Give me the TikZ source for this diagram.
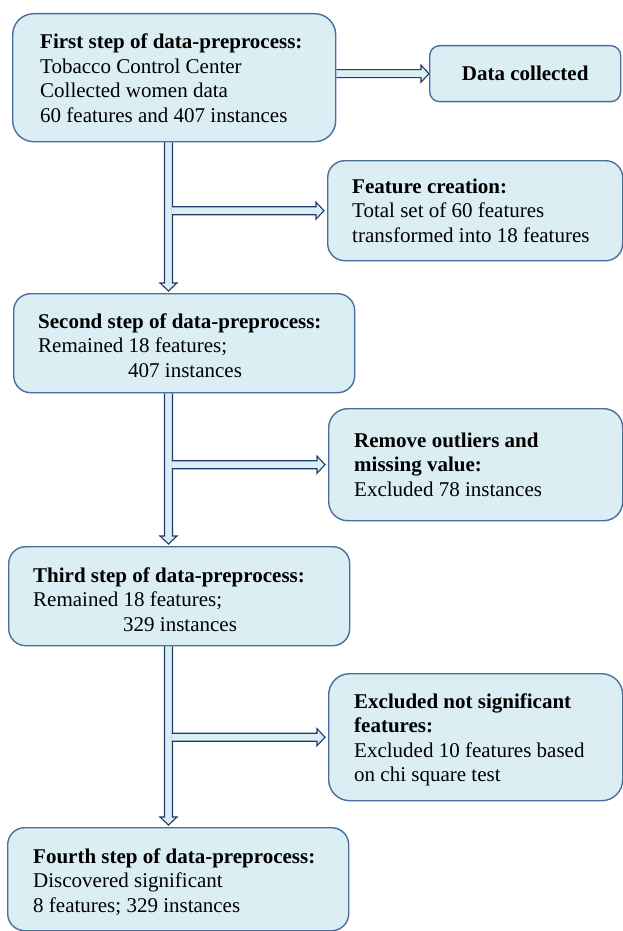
\documentclass[tikz,border=0pt]{standalone}
\usepackage{fontspec}
\setmainfont{Liberation Serif}
\usetikzlibrary{calc}

\definecolor{boxfill}{HTML}{DAEEF3}
\definecolor{boxline}{HTML}{4A6E9E}
\definecolor{arrline}{HTML}{1F3A6B}

\pgfdeclarelayer{background}
\pgfsetlayers{background,main}

\newcommand{\mainsize}{\fontsize{21pt}{24.5pt}\selectfont}

% hollow block arrow pointing down: from #1 (shaft start) to #2 (tip)
\newcommand{\downblock}[2]{%
  \path[blockarrow] let \p1=(#1), \p2=(#2) in
    (\x1-4pt,\y1) -- (\x1-4pt,\y2+8pt) -- (\x1-8.5pt,\y2+8pt) -- (\x1,\y2)
    -- (\x1+8.5pt,\y2+8pt) -- (\x1+4pt,\y2+8pt) -- (\x1+4pt,\y1);}

% hollow block arrow pointing right: from x of #1 to the tip #2
\newcommand{\rightblock}[2]{%
  \path[blockarrow] let \p1=(#1), \p2=(#2) in
    (\x1,\y2+4pt) -- (\x2-8pt,\y2+4pt) -- (\x2-8pt,\y2+8.5pt) -- (\x2,\y2)
    -- (\x2-8pt,\y2-8.5pt) -- (\x2-8pt,\y2-4pt) -- (\x1,\y2-4pt);}

\begin{document}
\begin{tikzpicture}[x=1pt,y=-1pt,
  stepbox/.style={draw=boxline, fill=boxfill, line width=1.4pt,
    rounded corners=#1, anchor=north west, inner sep=0pt},
  stepbox/.default=18pt,
  txt/.style={anchor=base west, inner sep=0pt, font=\mainsize},
  hd/.style={anchor=base west, inner sep=0pt, font=\mainsize\bfseries},
  blockarrow/.style={draw=arrline, fill=boxfill, line width=1.1pt, line join=miter},
]
\useasboundingbox (0,0) rectangle (623,931);

% ---- boxes ----
\node[stepbox=21pt, minimum width=323pt, minimum height=128pt] (s1) at (12,13) {};
\node[stepbox=10pt, minimum width=191pt, minimum height=56pt,
      font=\mainsize\bfseries] (dc) at (429,45) {Data collected};
\node[stepbox=17pt, minimum width=295pt, minimum height=100pt] (fc) at (327,160) {};
\node[stepbox=17pt, minimum width=341pt, minimum height=99pt] (s2) at (13,293) {};
\node[stepbox=19pt, minimum width=294pt, minimum height=112pt] (ro) at (328,408) {};
\node[stepbox=17pt, minimum width=341pt, minimum height=99pt] (s3) at (8,546) {};
\node[stepbox=21pt, minimum width=294pt, minimum height=127pt] (ex) at (328,673) {};
\node[stepbox=17pt, minimum width=341pt, minimum height=103pt] (s4) at (7,827) {};

% ---- texts ----
\node[hd]  (s1h) at (40,49)   {First step of data-preprocess:};
\node[txt] (s1a) at (40,73.4) {Tobacco Control Center};
\node[txt] (s1b) at (40,97.8) {Collected women data};
\node[txt] (s1c) at (40,122.2){60 features and 407 instances};

\node[hd]  (fch) at (352,193)   {Feature creation:};
\node[txt] (fca) at (352,217.5) {Total set of 60 features};
\node[txt] (fcb) at (352,242)   {transformed into 18 features};

\node[hd]  (s2h) at (38,328)  {Second step of data-preprocess:};
\node[txt] (s2a) at (38,352.5){Remained 18 features;};
\node[txt] (s2b) at (128,377) {407 instances};

\node[hd]  (roh) at (354,447)   {Remove outliers and};
\node[hd]  (roa) at (354,471.5) {missing value:};
\node[txt] (rob) at (354,496)   {Excluded 78 instances};

\node[hd]  (s3h) at (33,582)  {Third step of data-preprocess:};
\node[txt] (s3a) at (33,606.5){Remained 18 features;};
\node[txt] (s3b) at (123,631) {329 instances};

\node[hd]  (exh) at (354,708)   {Excluded not significant};
\node[hd]  (exa) at (354,732.5) {features:};
\node[txt] (exb) at (354,757)   {Excluded 10 features based};
\node[txt] (exc) at (354,781.5) {on chi square test};

\node[hd]  (s4h) at (33,863)  {Fourth step of data-preprocess:};
\node[txt] (s4a) at (33,887.5){Discovered significant};
\node[txt] (s4b) at (33,912)  {8 features; 329 instances};

% ---- block arrows ----
\coordinate (col) at (168.5,0);
\begin{pgfonlayer}{background}
  \rightblock{s1.east}{dc.west}
  \downblock{s1.south -| col}{$(s2.north -| col)+(0,-2)$}
  \downblock{s2.south -| col}{$(s3.north -| col)+(0,-2)$}
  \downblock{s3.south -| col}{$(s4.north -| col)+(0,-2)$}
  \rightblock{$(col)+(3.4,0)$}{$(fc.west)+(-3,0)$}
  \rightblock{$(col)+(3.4,0)$}{$(ro.west)+(-3,0)$}
  \rightblock{$(col)+(3.4,0)$}{$(ex.west)+(-3,0)$}
\end{pgfonlayer}
\end{tikzpicture}
\end{document}
